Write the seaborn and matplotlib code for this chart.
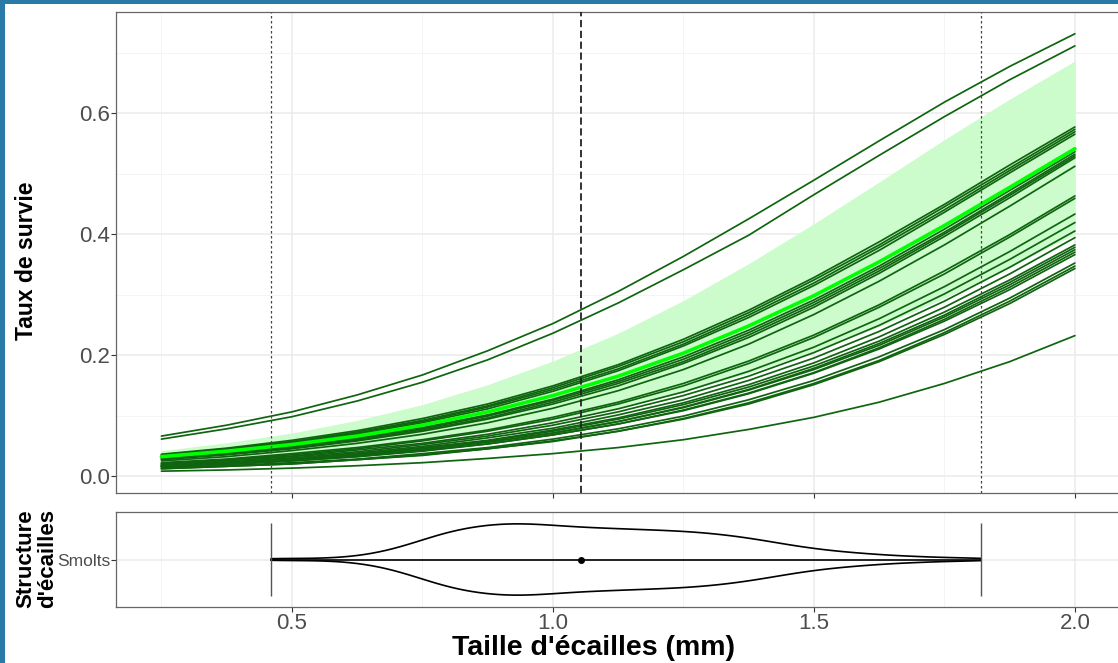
import numpy as np
import pandas as pd
import matplotlib
matplotlib.use("Agg")
import matplotlib.pyplot as plt
from matplotlib.patches import Rectangle
from matplotlib.ticker import MultipleLocator
import seaborn as sns

# ---------------- data ----------------
x_grid = [0.25, 0.375, 0.5, 0.625, 0.75, 0.875, 1.0, 1.125,
          1.25, 1.375, 1.5, 1.625, 1.75, 1.875, 2.0]

high_curves = [
    [0.066, 0.084, 0.106, 0.134, 0.167, 0.207, 0.252, 0.305, 0.363, 0.425, 0.489, 0.554, 0.618, 0.677, 0.731],
    [0.061, 0.078, 0.098, 0.124, 0.155, 0.192, 0.236, 0.286, 0.341, 0.398, 0.465, 0.530, 0.594, 0.655, 0.711],
]
mid_curves = [
    [0.036, 0.046, 0.059, 0.075, 0.095, 0.119, 0.149, 0.184, 0.226, 0.274, 0.328, 0.387, 0.449, 0.514, 0.577],
    [0.035, 0.045, 0.057, 0.073, 0.092, 0.116, 0.146, 0.181, 0.222, 0.270, 0.324, 0.382, 0.445, 0.509, 0.573],
    [0.034, 0.044, 0.056, 0.071, 0.090, 0.114, 0.143, 0.177, 0.218, 0.266, 0.319, 0.378, 0.440, 0.505, 0.569],
    [0.033, 0.042, 0.054, 0.069, 0.088, 0.111, 0.140, 0.174, 0.215, 0.262, 0.315, 0.373, 0.436, 0.501, 0.565],
    [0.030, 0.039, 0.049, 0.063, 0.080, 0.101, 0.127, 0.159, 0.197, 0.241, 0.291, 0.347, 0.408, 0.472, 0.536],
    [0.029, 0.037, 0.048, 0.061, 0.078, 0.099, 0.125, 0.156, 0.193, 0.237, 0.287, 0.343, 0.403, 0.467, 0.532],
    [0.028, 0.036, 0.046, 0.059, 0.076, 0.096, 0.122, 0.153, 0.189, 0.233, 0.283, 0.339, 0.400, 0.464, 0.529],
    [0.027, 0.035, 0.045, 0.058, 0.074, 0.094, 0.119, 0.149, 0.186, 0.229, 0.279, 0.335, 0.396, 0.460, 0.526],
    [0.025, 0.032, 0.042, 0.054, 0.069, 0.088, 0.112, 0.141, 0.176, 0.218, 0.267, 0.322, 0.382, 0.446, 0.512],
]
low_curves = [
    [0.022, 0.028, 0.037, 0.047, 0.060, 0.076, 0.097, 0.122, 0.153, 0.190, 0.233, 0.283, 0.339, 0.399, 0.463],
    [0.021, 0.027, 0.035, 0.045, 0.058, 0.074, 0.094, 0.119, 0.149, 0.186, 0.229, 0.279, 0.334, 0.395, 0.459],
    [0.020, 0.026, 0.033, 0.043, 0.054, 0.069, 0.088, 0.111, 0.139, 0.173, 0.213, 0.260, 0.313, 0.371, 0.433],
    [0.019, 0.025, 0.032, 0.040, 0.052, 0.066, 0.084, 0.106, 0.133, 0.165, 0.204, 0.249, 0.301, 0.358, 0.419],
    [0.018, 0.023, 0.030, 0.038, 0.049, 0.063, 0.079, 0.101, 0.126, 0.158, 0.195, 0.239, 0.289, 0.345, 0.405],
    [0.017, 0.022, 0.028, 0.036, 0.047, 0.059, 0.076, 0.096, 0.121, 0.151, 0.187, 0.230, 0.279, 0.334, 0.394],
    [0.017, 0.022, 0.028, 0.036, 0.046, 0.058, 0.074, 0.094, 0.118, 0.147, 0.182, 0.223, 0.271, 0.324, 0.382],
    [0.016, 0.021, 0.027, 0.034, 0.044, 0.056, 0.071, 0.090, 0.114, 0.143, 0.178, 0.219, 0.266, 0.320, 0.378],
    [0.016, 0.021, 0.027, 0.034, 0.044, 0.056, 0.071, 0.090, 0.113, 0.142, 0.176, 0.216, 0.263, 0.316, 0.374],
    [0.015, 0.019, 0.025, 0.032, 0.042, 0.053, 0.068, 0.086, 0.109, 0.137, 0.171, 0.212, 0.259, 0.312, 0.370],
    [0.015, 0.019, 0.025, 0.032, 0.041, 0.053, 0.068, 0.086, 0.108, 0.136, 0.170, 0.210, 0.256, 0.308, 0.366],
    [0.013, 0.017, 0.022, 0.028, 0.037, 0.047, 0.061, 0.078, 0.099, 0.126, 0.158, 0.197, 0.242, 0.294, 0.352],
    [0.012, 0.016, 0.020, 0.027, 0.035, 0.045, 0.058, 0.074, 0.095, 0.121, 0.153, 0.191, 0.237, 0.289, 0.347],
    [0.012, 0.016, 0.020, 0.027, 0.034, 0.045, 0.057, 0.074, 0.094, 0.119, 0.151, 0.189, 0.234, 0.285, 0.343],
    [0.008, 0.010, 0.013, 0.017, 0.022, 0.029, 0.037, 0.047, 0.060, 0.077, 0.097, 0.122, 0.153, 0.189, 0.232],
]
mean_curve = [0.032, 0.041, 0.052, 0.066, 0.084, 0.106, 0.133, 0.165, 0.203, 0.248, 0.298, 0.354, 0.414, 0.477, 0.541]
ribbon_low = [0.024, 0.030, 0.038, 0.048, 0.059, 0.074, 0.092, 0.113, 0.139, 0.170, 0.206, 0.247, 0.294, 0.345, 0.400]
ribbon_high = [0.042, 0.055, 0.071, 0.092, 0.118, 0.151, 0.190, 0.236, 0.290, 0.351, 0.417, 0.486, 0.556, 0.623, 0.686]

size_bins = [0.46, 0.50, 0.55, 0.60, 0.65, 0.70, 0.75, 0.80, 0.85, 0.90, 0.95,
             1.00, 1.05, 1.10, 1.15, 1.20, 1.25, 1.30, 1.35, 1.40, 1.45, 1.50,
             1.55, 1.60, 1.65, 1.70, 1.75, 1.80, 1.82]
size_counts = [1, 1, 1, 2, 5, 11, 20, 29, 34, 37, 37,
               35, 33, 32, 31, 30, 29, 27, 24, 20, 15, 11,
               8, 6, 4, 3, 2, 1, 1]
size_min, size_mean, size_max = 0.46, 1.054, 1.82
category = "Smolts"

# ---------------- figure ----------------
sns.set_theme(style="white")
plt.rcParams["font.family"] = ["Liberation Sans", "DejaVu Sans"]

W, H = 1118, 663
fig = plt.figure(figsize=(W / 100, H / 100), dpi=100)
fig.patch.set_facecolor("white")


def frac(l, t, r, b):
    return [l / W, 1 - b / H, (r - l) / W, (b - t) / H]


ax = fig.add_axes(frac(116, 12, 1130, 493))
ax2 = fig.add_axes(frac(116, 512, 1130, 607))

xlim = (0.163, 0.163 + 1014 / 522)

rows = []
all_curves = high_curves + mid_curves + low_curves
for i, c in enumerate(all_curves):
    for xv, yv in zip(x_grid, c):
        rows.append({"modele": i, "taille": xv, "survie": yv})
df = pd.DataFrame(rows)

ax.fill_between(x_grid, ribbon_low, ribbon_high, color="#ccfbcc", lw=0, zorder=1)
sns.lineplot(data=df, x="taille", y="survie", units="modele", estimator=None,
             color="#0f650f", lw=1.25, ax=ax, zorder=2)
sns.lineplot(x=x_grid, y=mean_curve, color="#00ff00", lw=2.6, ax=ax, zorder=3)

ax.axvline(size_min, color="#444444", lw=0.9, ls=(0, (2, 2)), zorder=4)
ax.axvline(size_max, color="#444444", lw=0.9, ls=(0, (2, 2)), zorder=4)
ax.axvline(size_mean, color="#222222", lw=1.3, ls=(0, (4, 2)), zorder=4)

ax.set_xlim(*xlim)
ax.set_ylim(-0.0281, 0.767)
ax.yaxis.set_minor_locator(MultipleLocator(0.1))
ax.set_yticks([0.0, 0.2, 0.4, 0.6])
ax.set_yticklabels(["0.0", "0.2", "0.4", "0.6"])

for a in (ax, ax2):
    a.xaxis.set_major_locator(MultipleLocator(0.5))
    a.xaxis.set_minor_locator(MultipleLocator(0.25))
    a.set_axisbelow(True)
    a.grid(which="major", color="#ebebeb", lw=1.1)
    a.grid(which="minor", color="#f3f3f3", lw=0.6)
    a.tick_params(which="major", length=3.5, width=0.8, color="#333333",
                  labelcolor="#4d4d4d", labelsize=16, bottom=True, left=True, pad=0.5)
    a.tick_params(which="minor", length=0)
    for s in a.spines.values():
        s.set_color("#666666")
        s.set_linewidth(0.9)
    a.set_xlabel("")
    a.set_ylabel("")

ax.tick_params(axis="x", labelbottom=False)

# violin panel
sizes = np.repeat(size_bins, size_counts)
sns.violinplot(x=sizes, y=[category] * len(sizes), orient="h", inner=None,
               fill=False, color="black", linewidth=1.2, cut=0, width=0.9,
               bw_adjust=0.6, density_norm="width", ax=ax2)
ax2.plot([size_min, size_max], [0, 0], color="black", lw=1.2, zorder=5)
ax2.vlines([size_min, size_max], -0.455, 0.455, color="#555555", lw=1.0, zorder=5)
ax2.plot([size_mean], [0], "o", ms=4, color="black", zorder=6)
ax2.set_xlim(*xlim)
ax2.set_ylim(0.6, -0.6)
ax2.set_xticks([0.5, 1.0, 1.5, 2.0])
ax2.set_xticklabels(["0.5", "1.0", "1.5", "2.0"])
ax2.tick_params(axis="y", labelsize=12.5)
ax2.grid(which="major", axis="y", color="#ebebeb", lw=1.1)
ax2.set_xlabel("")
ax2.set_ylabel("")

# axis titles
fig.text(27 / W, 1 - 261 / H, "Taux de survie", rotation=90, fontsize=16.5,
         fontweight="bold", ha="center", va="center", color="black")
fig.text(593 / W, 1 - 648 / H, "Taille d'écailles (mm)", fontsize=20.5,
         fontweight="bold", ha="center", va="center", color="black")
fig.text(37 / W, 1 - 559 / H, "Structure\nd'écailles", rotation=90, fontsize=16,
         fontweight="bold", ha="center", va="center", color="black",
         linespacing=1.05, multialignment="center")

# frame strips
fig.add_artist(Rectangle((0, 0), 5 / W, 1, transform=fig.transFigure,
                         color="#2a7aa8", lw=0, zorder=10))
fig.add_artist(Rectangle((0, 1 - 4 / H), 1, 4 / H, transform=fig.transFigure,
                         color="#2a7aa8", lw=0, zorder=10))

fig.savefig("out.png", dpi=100, facecolor="white")
